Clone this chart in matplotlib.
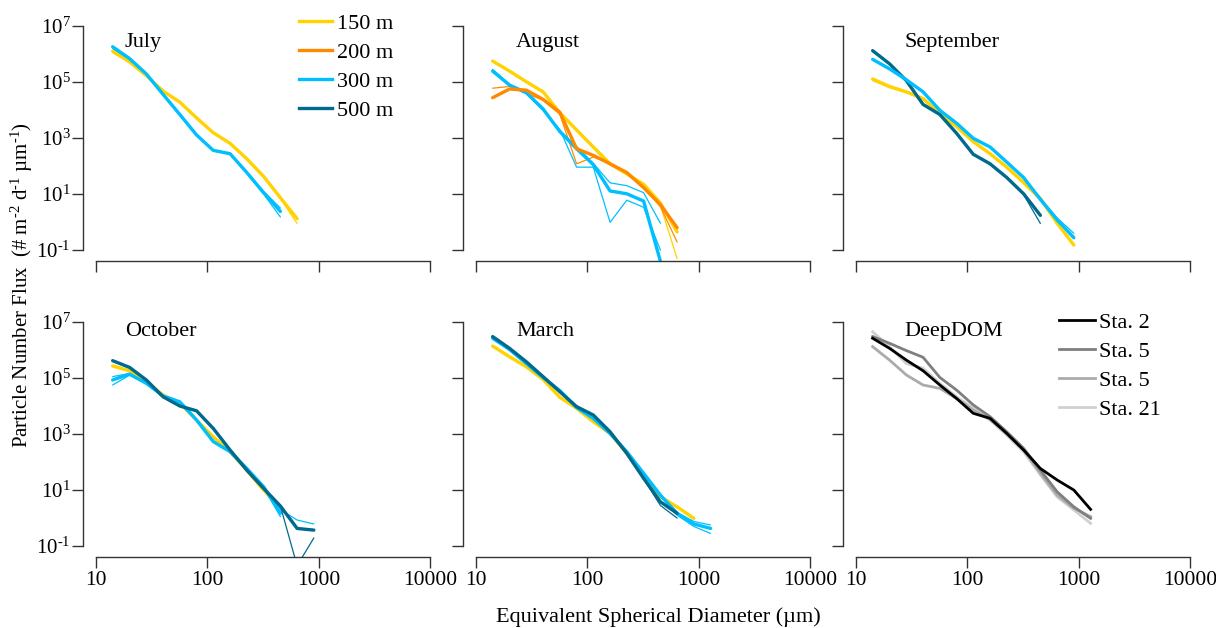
import numpy as np
import matplotlib
matplotlib.use("Agg")
import matplotlib.pyplot as plt
from matplotlib.ticker import FixedLocator, FuncFormatter, NullLocator

plt.rcParams['font.family'] = ['Liberation Serif', 'DejaVu Serif']
plt.rcParams['mathtext.fontset'] = 'custom'
plt.rcParams['mathtext.rm'] = 'Liberation Serif'
plt.rcParams['mathtext.it'] = 'Liberation Serif:italic'

# equivalent spherical diameter bins (um)
esd = [14.1, 20, 28.3, 40, 56.6, 80, 113, 160, 226, 320, 453, 640, 905, 1280, 1810]

# flux values as log10(# m-2 d-1 um-1)
jul_150 = [6.10, 5.72, 5.23, 4.68, 4.28, 3.72, 3.19, 2.81, 2.26, 1.63, 0.87, 0.12]
jul_150_thin = [6.05, 5.70, 5.22, 4.66, 4.27, 3.70, 3.17, 2.79, 2.24, 1.60, 0.84, -0.05]
jul_300 = [6.26, 5.84, 5.29, 4.56, 3.84, 3.11, 2.56, 2.44, 1.77, 1.05, 0.38]
jul_300_thin = [6.22, 5.82, 5.28, 4.55, 3.83, 3.10, 2.55, 2.42, 1.75, 1.00, 0.18]
jul_300_thin2 = [6.20, 5.80, 5.27, 4.54, 3.82, 3.10, 2.55, 2.43, 1.78, 1.10, 0.50]

aug_150 = [5.75, 5.39, 5.01, 4.65, 3.90, 3.29, 2.68, 2.08, 1.72, 1.35, 0.68, -0.35]
aug_150_thin = [5.72, 5.37, 5.00, 4.63, 3.88, 3.27, 2.66, 2.06, 1.70, 1.30, 0.60, -1.30]
aug_200 = [4.44, 4.75, 4.71, 4.38, 3.92, 2.62, 2.38, 2.08, 1.77, 1.23, 0.62, -0.20]
aug_200_thin = [4.78, 4.84, 4.59, 4.35, 3.85, 2.08, 2.32, 2.10, 1.75, 1.25, 0.55, -0.71]
aug_300 = [5.39, 4.89, 4.62, 4.04, 3.23, 2.62, 2.05, 1.11, 1.01, 0.75, -1.40]
aug_300_thin = [5.45, 4.92, 4.60, 4.00, 3.30, 1.96, 1.96, -0.01, 0.78, 0.53, -1.00]
aug_300_thin2 = [5.42, 4.90, 4.58, 3.98, 3.28, 2.70, 2.10, 1.40, 1.30, 1.05, -0.04]

sep_150 = [5.11, 4.84, 4.65, 4.41, 3.87, 3.41, 2.87, 2.44, 1.96, 1.41, 0.84, -0.04, -0.82]
sep_150_thin = [5.05, 4.80, 4.62, 4.38, 3.85, 3.38, 2.85, 2.42, 1.94, 1.38, 0.78, 0.10, -0.50]
sep_300 = [5.81, 5.47, 5.08, 4.65, 3.99, 3.53, 2.99, 2.68, 2.14, 1.59, 0.81, 0.08, -0.56]
sep_300_thin = [5.79, 5.45, 5.07, 4.64, 3.98, 3.52, 2.98, 2.67, 2.13, 1.57, 0.85, 0.15, -0.40]
sep_500 = [6.12, 5.65, 5.05, 4.20, 3.84, 3.17, 2.42, 2.08, 1.59, 1.01, 0.24]
sep_500_thin = [6.10, 5.63, 5.04, 4.19, 3.83, 3.16, 2.41, 2.07, 1.58, 0.98, -0.05]

oct_150 = [5.43, 5.26, 4.87, 4.39, 4.10, 3.50, 2.90, 2.37, 1.71, 1.00, 0.40]
oct_300 = [4.93, 5.14, 4.81, 4.36, 4.15, 3.50, 2.73, 2.37, 1.77, 1.12, 0.17]
oct_300_thin = [4.75, 5.10, 4.80, 4.35, 4.14, 3.48, 2.72, 2.36, 1.76, 1.10, 0.05]
oct_300_thin2 = [5.05, 5.16, 4.82, 4.37, 4.16, 3.52, 2.75, 2.38, 1.78, 1.14, 0.30, -0.07, -0.21]
oct_500 = [5.62, 5.38, 4.93, 4.33, 4.00, 3.83, 3.20, 2.43, 1.71, 1.06, 0.43, -0.37, -0.43]
oct_500_thin = [5.60, 5.36, 4.92, 4.32, 3.99, 3.82, 3.19, 2.42, 1.70, 1.05, 0.43, -1.70, -0.71]

mar_150 = [6.14, 5.76, 5.40, 4.95, 4.31, 3.92, 3.44, 3.02, 2.31, 1.48, 0.76, 0.40, -0.01]
mar_300 = [6.42, 6.02, 5.52, 5.02, 4.55, 3.95, 3.56, 3.02, 2.37, 1.60, 0.82, 0.17, -0.21, -0.37]
mar_300_thin = [6.40, 6.00, 5.51, 5.01, 4.54, 3.94, 3.55, 3.01, 2.36, 1.58, 0.80, 0.20, -0.12, -0.25]
mar_300_thin2 = [6.41, 6.01, 5.51, 5.01, 4.54, 3.94, 3.55, 3.01, 2.36, 1.59, 0.78, 0.10, -0.30, -0.55]
mar_500 = [6.48, 6.06, 5.58, 5.05, 4.51, 3.98, 3.68, 3.08, 2.31, 1.42, 0.58, 0.17]
mar_500_thin = [6.46, 6.05, 5.57, 5.04, 4.50, 3.97, 3.67, 3.07, 2.30, 1.40, 0.45, 0.00]

dd_sta2 = [6.42, 6.06, 5.64, 5.26, 4.75, 4.27, 3.74, 3.56, 3.02, 2.43, 1.77, 1.36, 1.00, 0.31]
dd_sta5a = [6.48, 6.24, 5.98, 5.74, 5.02, 4.57, 4.04, 3.62, 3.08, 2.49, 1.71, 0.94, 0.40, -0.01]
dd_sta5b = [6.12, 5.64, 5.11, 4.75, 4.63, 4.27, 3.86, 3.52, 3.02, 2.43, 1.60, 0.82, 0.35, 0.05]
dd_sta21 = [6.65, 6.12, 5.52, 5.35, 4.81, 4.33, 3.92, 3.50, 2.96, 2.37, 1.54, 0.76, 0.29, -0.19]

depth_labels = ['150 m', '200 m', '300 m', '500 m']
depth_colors = ['#FFD200', '#FF8A00', '#00BFFF', '#006A8E']
station_labels = ['Sta. 2', 'Sta. 5', 'Sta. 5', 'Sta. 21']
station_colors = ['#000000', '#7F7F7F', '#ABABAB', '#D0D0D0']

panels = [
    ('July', [(jul_150, 0, 2.4), (jul_150_thin, 0, 0.9), (jul_300, 2, 2.4),
              (jul_300_thin, 2, 0.9), (jul_300_thin2, 2, 0.9)]),
    ('August', [(aug_150, 0, 2.4), (aug_150_thin, 0, 0.9), (aug_200_thin, 1, 0.9),
                (aug_300_thin, 2, 0.9), (aug_300_thin2, 2, 0.9),
                (aug_300, 2, 2.4), (aug_200, 1, 2.4)]),
    ('September', [(sep_150, 0, 2.4), (sep_150_thin, 0, 0.9), (sep_500, 3, 2.4),
                   (sep_500_thin, 3, 0.9), (sep_300, 2, 2.4), (sep_300_thin, 2, 0.9)]),
    ('October', [(oct_150, 0, 2.4), (oct_300, 2, 2.4), (oct_300_thin, 2, 0.9),
                 (oct_300_thin2, 2, 0.9), (oct_500, 3, 2.4), (oct_500_thin, 3, 0.9)]),
    ('March', [(mar_150, 0, 2.4), (mar_300, 2, 2.4), (mar_300_thin, 2, 0.9),
               (mar_300_thin2, 2, 0.9), (mar_500, 3, 2.4), (mar_500_thin, 3, 0.9)]),
]

fig = plt.figure(figsize=(12.16, 6.28), dpi=100)
W, H = 1216.0, 628.0

col_left = [83, 463, 843]
col_width = 347
row_top = [26, 322]
row_height = 235
ylim = (10 ** -1.39, 1e7)
xlim = (10 ** 0.883, 1e4)
HY = u'\u2010'  # short hyphen used for negative exponents


def exp_label(v, pos):
    e = int(round(np.log10(v)))
    s = str(e).replace('-', HY)
    return r'$\mathregular{10^{%s}}$' % s


def style_axis(ax, show_x, show_y):
    ax.set_xscale('log')
    ax.set_yscale('log')
    ax.set_xlim(*xlim)
    ax.set_ylim(*ylim)
    for s in ['top', 'right']:
        ax.spines[s].set_visible(False)
    for s in ['left', 'bottom']:
        ax.spines[s].set_color('#333333')
        ax.spines[s].set_linewidth(1.0)
    ax.spines['left'].set_bounds(0.1, 1e7)
    ax.spines['bottom'].set_bounds(10, 1e4)
    ax.xaxis.set_major_locator(FixedLocator([10, 100, 1000, 10000]))
    ax.yaxis.set_major_locator(FixedLocator([0.1, 10, 1e3, 1e5, 1e7]))
    ax.xaxis.set_minor_locator(NullLocator())
    ax.yaxis.set_minor_locator(NullLocator())
    ax.xaxis.set_major_formatter(FuncFormatter(lambda v, p: '%d' % round(v)))
    ax.yaxis.set_major_formatter(FuncFormatter(exp_label))
    ax.tick_params(direction='out', length=8, width=1.0, color='#333333', pad=2)
    ax.tick_params(axis='x', labelsize=15.5)
    ax.tick_params(axis='y', labelsize=15, pad=1)
    if not show_x:
        ax.set_xticklabels([])
    if not show_y:
        ax.set_yticklabels([])
    ax.patch.set_alpha(0)


axes = []
for r in range(2):
    for c in range(3):
        l = col_left[c] / W
        b = 1 - (row_top[r] + row_height) / H
        ax = fig.add_axes([l, b, col_width / W, row_height / H])
        style_axis(ax, show_x=(r == 1), show_y=(c == 0))
        axes.append(ax)

for ax, (name, lines) in zip(axes[:5], panels):
    for vals, ci, lw in lines:
        ax.plot(esd[:len(vals)], 10 ** np.array(vals), color=depth_colors[ci],
                lw=lw, solid_joinstyle='round', solid_capstyle='round')

ax_dd = axes[5]
for vals, col in zip([dd_sta21, dd_sta5b, dd_sta5a, dd_sta2], station_colors[::-1]):
    ax_dd.plot(esd[:len(vals)], 10 ** np.array(vals), color=col, lw=2.0,
               solid_joinstyle='round')

# panel names
titles = ['July', 'August', 'September', 'October', 'March', 'DeepDOM']
title_pos = [(125, 42), (516, 42), (904, 42), (125, 331), (516, 331), (904, 331)]
for t, (x, y) in zip(titles, title_pos):
    fig.text(x / W, 1 - y / H, t, fontsize=16, va='center', ha='left')

# legends
h_depth = [plt.Line2D([], [], color=c, lw=2.4) for c in depth_colors]
axes[0].legend(h_depth, depth_labels, loc='upper left',
               bbox_to_anchor=(299 / W, 1 - 13 / H), bbox_transform=fig.transFigure,
               frameon=False, fontsize=16, handlelength=1.5, handletextpad=0.2,
               labelspacing=0.38, borderpad=0, borderaxespad=0)
h_sta = [plt.Line2D([], [], color=c, lw=2.0) for c in station_colors]
ax_dd.legend(h_sta, station_labels, loc='upper left',
             bbox_to_anchor=(1059 / W, 1 - 312 / H), bbox_transform=fig.transFigure,
             frameon=False, fontsize=16, handlelength=1.6, handletextpad=0.2,
             labelspacing=0.38, borderpad=0, borderaxespad=0)

fig.text(22 / W, 1 - 285 / H,
         u'Particle Number Flux  (# m$^{%s2}$ d$^{%s1}$ \u00b5m$^{%s1}$)' % (HY, HY, HY),
         rotation=90, fontsize=15, ha='center', va='center')
fig.text(658 / W, 1 - 617 / H, u'Equivalent Spherical Diameter (\u00b5m)',
         fontsize=16, ha='center', va='center')

fig.savefig('out.png', dpi=100)
